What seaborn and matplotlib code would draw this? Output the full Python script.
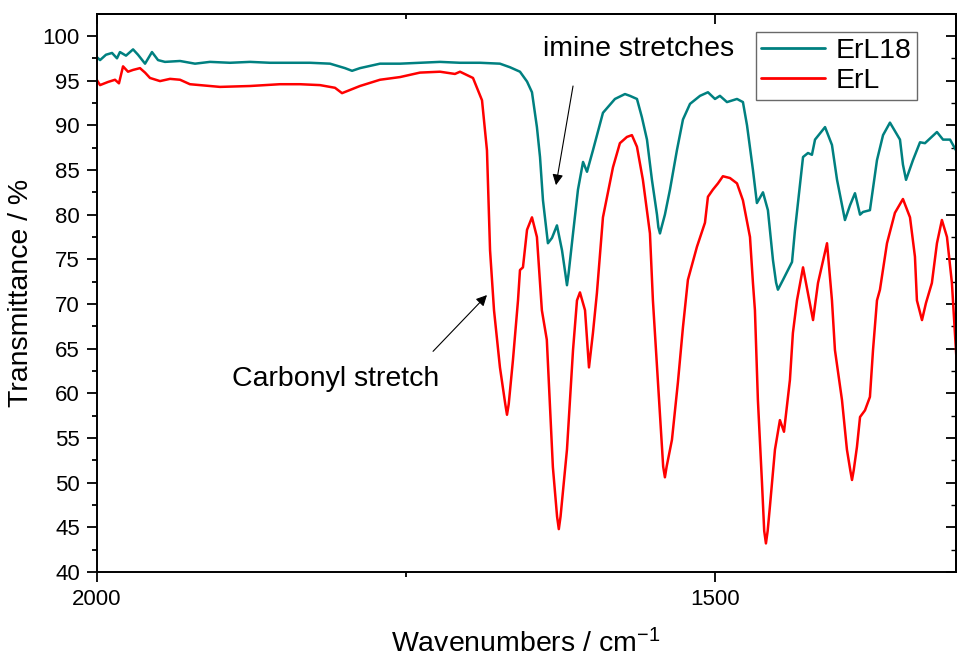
import numpy as np
import pandas as pd
import matplotlib
matplotlib.use("Agg")
import matplotlib.pyplot as plt
import seaborn as sns
from matplotlib.ticker import MultipleLocator

# ---------------- data ----------------
erl18_wn = [2000, 1997.3, 1992.5, 1987.6, 1983.6, 1981.2, 1976.3, 1970.6, 1966.6, 1960.9,
            1955.3, 1950.4, 1944.8, 1932.6, 1920.5, 1908.4, 1892.2, 1876, 1859.9, 1843.7,
            1827.5, 1811.3, 1799.2, 1793.5, 1787.1, 1770.9, 1754.7, 1738.6, 1722.4, 1706.2,
            1690, 1673.9, 1665.8, 1657.7, 1652, 1648, 1644, 1641.5, 1639.1, 1635.1,
            1631.8, 1627.8, 1623.7, 1621, 1619.7, 1618.4, 1614.8, 1610.8, 1606.7, 1603.5,
            1598.7, 1590.6, 1580.9, 1572.8, 1568.8, 1563.1, 1559.1, 1555, 1551, 1546.9,
            1545.8, 1544.5, 1543.2, 1540.5, 1536.4, 1530.8, 1525.9, 1520.2, 1512.1, 1505.7,
            1500, 1496, 1490.3, 1482.2, 1477.4, 1474.1, 1469.3, 1466.1, 1461.2, 1457.2,
            1453.1, 1450.6, 1449.1, 1445, 1437.7, 1435.3, 1428.8, 1424.8, 1421.6, 1419.1,
            1411, 1405.4, 1401.3, 1394.9, 1390.8, 1386.8, 1382.7, 1380.3, 1374.7, 1369,
            1364.1, 1358.5, 1350.4, 1348, 1345.5, 1339.9, 1334.2, 1330.2, 1320.5, 1315.6,
            1309.9, 1304.3]
erl18_t = [97.65, 97.3, 97.9, 98.1, 97.5, 98.2, 97.8, 98.5, 97.9, 96.9,
           98.2, 97.3, 97.1, 97.2, 96.9, 97.1, 97.0, 97.1, 97.0, 97.0,
           97.0, 96.9, 96.4, 96.1, 96.4, 96.9, 96.9, 97.0, 97.1, 97.0,
           97.0, 96.9, 96.5, 96.0, 94.9, 93.7, 89.8, 86.45, 81.6, 76.8,
           77.4, 78.8, 76.0, 73.4, 72.1, 73.4, 77.9, 82.8, 85.9, 84.8,
           87.2, 91.4, 92.95, 93.5, 93.3, 92.95, 90.9, 88.4, 83.9, 80.0,
           78.6, 77.9, 78.6, 80.0, 82.8, 87.2, 90.65, 92.4, 93.3, 93.7,
           92.95, 93.3, 92.6, 92.95, 92.6, 90.0, 85.0, 81.3, 82.5, 80.5,
           74.9, 72.4, 71.6, 72.7, 74.7, 78.3, 86.45, 86.9, 86.7, 88.4,
           89.8, 87.8, 83.9, 79.4, 81.05, 82.4, 80.0, 80.3, 80.5, 86.1,
           88.9, 90.3, 88.4, 85.6, 83.9, 86.1, 88.1, 88.0, 89.25, 88.4,
           88.4, 87.0]

erl_wn = [2000, 1997.3, 1990.9, 1985.2, 1982, 1978.7, 1974.7, 1970.6, 1965, 1960.9,
          1956.9, 1948.8, 1940.7, 1932.6, 1924.6, 1916.5, 1900.3, 1876, 1851.8, 1835.6,
          1819.4, 1807.3, 1801.6, 1795.2, 1787.1, 1770.9, 1754.7, 1738.6, 1722.4, 1710.3,
          1706.2, 1695.7, 1688.4, 1684.4, 1681.9, 1678.7, 1673.9, 1669.6, 1668.2, 1666.8,
          1663.4, 1659.3, 1657.7, 1655.3, 1652, 1648, 1644, 1640, 1636, 1631.1,
          1627.7, 1626.3, 1624.9, 1619.7, 1614.8, 1611.6, 1609.2, 1605.1, 1601.9, 1598.7,
          1595.5, 1590.6, 1582.5, 1576.9, 1571.2, 1567.2, 1563.1, 1558.3, 1552.6, 1550.2,
          1546.1, 1541.9, 1540.5, 1539.1, 1534.8, 1530, 1525.9, 1521.9, 1514.6, 1508.1,
          1505.7, 1501.7, 1497.6, 1493.6, 1487.9, 1482.2, 1477.4, 1471.7, 1469.3, 1467.7,
          1465.3, 1462, 1460.2, 1458.8, 1457.4, 1455.6, 1451.5, 1447.5, 1444.2, 1439.4,
          1437, 1433.7, 1428.8, 1424.8, 1420.7, 1416.7, 1409.4, 1405.4, 1403, 1397.3,
          1393.3, 1390.6, 1389.2, 1387.8, 1385.2, 1382.7, 1378.7, 1374.7, 1372.2, 1369,
          1366.6, 1360.9, 1354.5, 1348, 1342.3, 1338.3, 1336.7, 1332.6, 1329.4, 1324.6,
          1320.5, 1316.5, 1312.4, 1308.4, 1304.3]
erl_t = [95.1, 94.5, 94.85, 95.1, 94.7, 96.6, 96.0, 96.2, 96.4, 95.9,
         95.3, 94.95, 95.2, 95.1, 94.6, 94.5, 94.3, 94.4, 94.6, 94.6,
         94.5, 94.2, 93.6, 93.95, 94.4, 95.1, 95.4, 95.9, 96.0, 95.75,
         96.0, 95.3, 92.8, 87.2, 76.0, 69.3, 62.9, 58.8, 57.6, 58.8,
         63.7, 70.4, 73.8, 74.1, 78.3, 79.7, 77.5, 69.3, 66.0, 51.75,
         46.2, 44.8, 46.2, 53.7, 64.85, 70.4, 71.3, 69.3, 62.9, 66.75,
         71.2, 79.7, 85.3, 88.0, 88.7, 88.9, 87.6, 83.9, 77.9, 70.4,
         61.2, 51.8, 50.6, 51.8, 54.8, 61.2, 67.4, 72.7, 76.4, 79.1,
         82.0, 82.8, 83.5, 84.3, 84.1, 83.5, 81.6, 77.5, 72.35, 69.3,
         59.25, 50.0, 44.6, 43.2, 44.6, 47.3, 53.7, 57.0, 55.7, 61.5,
         66.75, 70.4, 74.1, 71.2, 68.2, 72.35, 76.8, 70.4, 64.85, 59.25,
         53.7, 51.4, 50.3, 51.4, 54.0, 57.35, 58.1, 59.6, 64.85, 70.4,
         71.6, 76.8, 80.2, 81.75, 79.7, 75.3, 70.4, 68.2, 70.1, 72.35,
         76.8, 79.4, 77.5, 72.35, 62.9]

series_names = ["ErL18", "ErL"]
series_colors = ["#008080", "#ff0000"]
x_ticks_major = [2000, 1500]
x_tick_labels = ["2000", "1500"]

df = pd.concat([
    pd.DataFrame({"wavenumber": erl18_wn, "transmittance": erl18_t, "sample": "ErL18"}),
    pd.DataFrame({"wavenumber": erl_wn, "transmittance": erl_t, "sample": "ErL"}),
], ignore_index=True)

# ---------------- styling ----------------
sns.set_style("ticks")
plt.rcParams["font.family"] = ["Liberation Sans", "DejaVu Sans"]
plt.rcParams["mathtext.fontset"] = "custom"
plt.rcParams["mathtext.rm"] = "Liberation Sans"
plt.rcParams["mathtext.it"] = "Liberation Sans:italic"
plt.rcParams["mathtext.default"] = "regular"
for k in ["text.color", "axes.labelcolor", "xtick.color", "ytick.color", "axes.edgecolor"]:
    plt.rcParams[k] = "black"

W, H = 957, 661
fig = plt.figure(figsize=(W / 100, H / 100), dpi=100)
x0, x1, y0, y1 = 96.7, 955.5, 14, 572
ax = fig.add_axes([x0 / W, 1 - y1 / H, (x1 - x0) / W, (y1 - y0) / H])

sns.lineplot(data=df, x="wavenumber", y="transmittance", hue="sample",
             hue_order=series_names, palette=dict(zip(series_names, series_colors)),
             sort=False, estimator=None, linewidth=1.8, ax=ax, legend=False)

ax.set_xlim(2000, 1305.5)
ax.set_ylim(40, 102.46)

ax.xaxis.set_minor_locator(MultipleLocator(250))
ax.yaxis.set_major_locator(MultipleLocator(5))
ax.yaxis.set_minor_locator(MultipleLocator(2.5))
ax.set_xticks(x_ticks_major)
ax.set_xticklabels(x_tick_labels)

ax.tick_params(which="major", direction="out", length=7.2, width=1.3, labelsize=16, pad=5,
               colors="black")
ax.tick_params(which="minor", direction="out", length=3.6, width=1.3)
for sp in ax.spines.values():
    sp.set_linewidth(1.4)
    sp.set_color("black")
    sp.set_visible(True)

secx = ax.secondary_xaxis("top")
secx.xaxis.set_major_locator(MultipleLocator(500))
secx.xaxis.set_minor_locator(MultipleLocator(250))
secx.tick_params(which="major", direction="in", length=7.2, width=1.3, labeltop=False)
secx.tick_params(which="minor", direction="in", length=3.6, width=1.3)
secx.spines["top"].set_linewidth(1.4)

secy = ax.secondary_yaxis("right")
secy.yaxis.set_major_locator(MultipleLocator(5))
secy.yaxis.set_minor_locator(MultipleLocator(2.5))
secy.tick_params(which="major", direction="in", length=7.2, width=1.3, labelright=False)
secy.tick_params(which="minor", direction="in", length=3.6, width=1.0)
secy.spines["right"].set_linewidth(1.4)

ax.set_xlabel("Wavenumbers / cm$^{-1}$", fontsize=20.5, labelpad=14)
ax.set_ylabel("Transmittance / %", fontsize=20.5, labelpad=6)

# legend
handles = ax.get_lines()[:2]
leg = ax.legend(handles, series_names, loc="upper right", bbox_to_anchor=(0.955, 0.968),
                borderaxespad=0, frameon=True, fancybox=False, edgecolor="#444444",
                fontsize=20.5, handlelength=2.25, handletextpad=0.35, labelspacing=0.15,
                borderpad=0.2)
leg.get_frame().set_linewidth(1.0)
for lh in leg.get_lines():
    lh.set_linewidth(2.0)

# annotations
ax.annotate("", xy=(1628.6, 83.3), xytext=(1614.8, 94.4),
            arrowprops=dict(arrowstyle="-|>", color="black", lw=0.8,
                            mutation_scale=16, shrinkA=0, shrinkB=0))
ax.text(1639.1, 97.8, "imine stretches", fontsize=20.5, ha="left", va="baseline")

ax.annotate("", xy=(1684.4, 71.0), xytext=(1728, 64.7),
            arrowprops=dict(arrowstyle="-|>", color="black", lw=0.8,
                            mutation_scale=16, shrinkA=0, shrinkB=0))
ax.text(1890.6, 60.8, "Carbonyl stretch", fontsize=20.5, ha="left", va="baseline")

fig.savefig("out.png", dpi=100)
